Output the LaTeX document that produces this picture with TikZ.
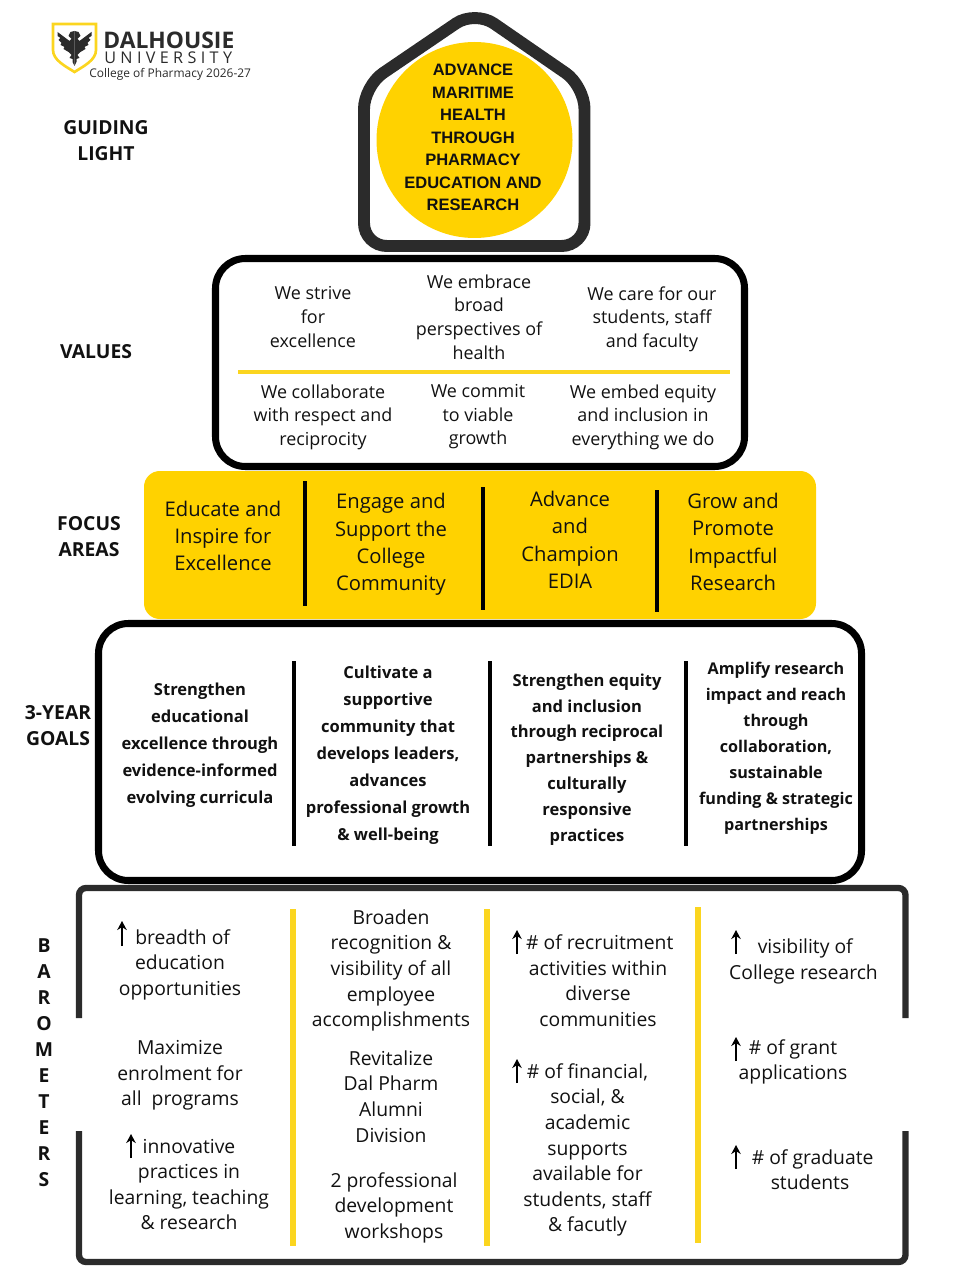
\documentclass[tikz,border=0pt]{standalone}
\usepackage{fontspec}
\setmainfont{Open Sans}
\newfontfamily\guidefont{Liberation Sans}
\newfontfamily\spacedfont[LetterSpace=27]{Open Sans}
\usepackage{tikz}
\usetikzlibrary{arrows.meta}
\definecolor{Ink}{HTML}{111111}
\definecolor{Frame}{HTML}{2B2B2B}
\definecolor{Gold}{HTML}{FFD200}
\definecolor{GoldBar}{HTML}{FBD51F}
\tikzset{
  sidelabel/.style={align=center,text=Ink,font=\fontsize{11}{14.8}\selectfont\bfseries},
  guidetext/.style={align=center,text=Ink,font=\fontsize{9.4}{12.8}\selectfont\guidefont\bfseries},
  valuetext/.style={align=center,text=Ink,font=\fontsize{10.2}{13.4}\selectfont},
  focustext/.style={align=center,text=Ink,font=\fontsize{11.5}{15.6}\selectfont},
  goaltext/.style={align=center,text=Ink,font=\fontsize{9.4}{15.4}\selectfont\bfseries},
  barotext/.style={align=center,text=Ink,font=\fontsize{11}{14.55}\selectfont},
  blackbox/.style={draw=black,line width=4pt,rounded corners=17pt},
  blackbar/.style={draw=black,line width=2.4pt},
  goldbar/.style={draw=GoldBar,line width=3.8pt},
  bracket/.style={draw=Frame,line width=3.6pt,rounded corners=4pt},
  upmark/.style={-{Stealth[length=1.8mm,width=1.9mm]},line width=1.1pt,draw=black}
}
\begin{document}
\begin{tikzpicture}[x=.02cm,y=-.02cm]
  \useasboundingbox (0,0) rectangle (960,1280);
  % crest and wordmark
  \draw[draw=GoldBar,line width=1.5pt,fill=white] (53,24) -- (96,24) -- (96,50) .. controls (96,60) and (84,66) .. (74.5,72) .. controls (65,66) and (53,60) .. (53,50) -- cycle;
  \foreach \side in {1,-1} {
    \fill[Frame,shift={(74.5,0)},xscale=\side] (0,31) -- (4,32) -- (6,36) -- (3,39) -- (5,41) -- (17,32) -- (17,36) -- (14,38) -- (16,40) -- (13,43) -- (14,45) -- (10,47) -- (11,49) -- (6,52) -- (3,55) -- (5,58) -- (2,59) -- (2,62) -- (0,66) -- cycle;
  }
  \node[anchor=west,inner sep=0pt,text=Frame,font=\fontsize{13}{15}\selectfont\bfseries] (wordDal) at (103,40) {DALHOUSIE};
  \node[anchor=west,inner sep=0pt,text=Frame,font=\fontsize{9.2}{11}\selectfont\spacedfont] (wordUni) at (104,57.5) {UNIVERSITY};
  \node[anchor=west,inner sep=0pt,text=Frame,font=\fontsize{6.8}{8}\selectfont] (wordCollege) at (89,74.5) {College of Pharmacy 2026-27};
  % row labels
  \node[sidelabel] (labelGuiding) at (106,141) {GUIDING\\LIGHT};
  \node[sidelabel] (labelValues) at (96,352) {VALUES};
  \node[sidelabel] (labelFocus) at (89,537) {FOCUS\\AREAS};
  \node[sidelabel] (labelGoals) at (58,726) {3-YEAR\\GOALS};
  \node[sidelabel] (labelBaro) at (44,1063) {B\\A\\R\\O\\M\\E\\T\\E\\R\\S};
  % guiding light
  \draw[draw=Frame,line width=6.8pt,rounded corners=13pt,fill=white] (364,86) -- (475,10.5) -- (584.5,86) -- (584.5,246) -- (364,246) -- cycle;
  \fill[Gold] (474.5,140) circle (98);
  \node[guidetext] (guideText) at (473,137.5) {ADVANCE\\MARITIME\\HEALTH\\THROUGH\\PHARMACY\\EDUCATION AND\\RESEARCH};
  % values
  \draw[blackbox] (215.5,258.5) rectangle (744.5,466.5);
  \draw[goldbar,line width=2.8pt] (238,372) -- (730,372);
  \node[valuetext] (valExcel) at (313,317) {We strive\\for\\excellence};
  \node[valuetext] (valBroad) at (479,317) {We embrace\\broad\\perspectives of\\health};
  \node[valuetext] (valCare) at (652,319) {We care for our\\students, staff\\and faculty};
  \node[valuetext] (valRespect) at (323,417) {We collaborate\\with respect and\\reciprocity};
  \node[valuetext] (valGrowth) at (478,417) {We commit\\to viable\\growth};
  \node[valuetext] (valEquity) at (643,417) {We embed equity\\and inclusion in\\everything we do};
  % focus areas
  \fill[Gold,rounded corners=9pt] (144,471) rectangle (816,619);
  \draw[blackbar] (305,481) -- (305,606);
  \draw[blackbar] (483,487) -- (483,610);
  \draw[blackbar] (657,490) -- (657,612);
  \node[focustext] (focusEducate) at (223,536) {Educate and\\Inspire for\\Excellence};
  \node[focustext] (focusEngage) at (391,544.5) {Engage and\\Support the\\College\\Community};
  \node[focustext] (focusEdia) at (570,540) {Advance\\and\\Champion\\EDIA};
  \node[focustext] (focusGrow) at (733,542) {Grow and\\Promote\\Impactful\\Research};
  % barometers frame first, the goals box sits on it
  \draw[bracket] (79,1018) -- (79,888) -- (905.5,888) -- (905.5,1018);
  \draw[bracket] (79,1131) -- (79,1262) -- (905.5,1262) -- (905.5,1131);
  % 3-year goals
  \draw[blackbox,fill=white] (98.5,623.5) rectangle (861.5,880.5);
  \draw[blackbar] (294,661) -- (294,846);
  \draw[blackbar] (490,661) -- (490,846);
  \draw[blackbar] (686,661) -- (686,846);
  \node[goaltext] (goalCurricula) at (200,745) {Strengthen\\educational\\excellence through\\evidence-informed\\evolving curricula};
  \node[goaltext] (goalCommunity) at (388,755.5) {Cultivate a\\supportive\\community that\\develops leaders,\\advances\\professional growth\\\& well-being};
  \node[goaltext,font=\fontsize{9.4}{14.7}\selectfont\bfseries] (goalEquity) at (587,759.5) {Strengthen equity\\and inclusion\\through reciprocal\\partnerships \&\\culturally\\responsive\\practices};
  \node[goaltext,font=\fontsize{9.2}{14.8}\selectfont\bfseries] (goalResearch) at (776,748.5) {Amplify research\\impact and reach\\through\\collaboration,\\sustainable\\funding \& strategic\\partnerships};
  % barometers
  \draw[goldbar] (293,909) -- (293,1246);
  \draw[goldbar] (487,909) -- (487,1246);
  \draw[goldbar] (698,907) -- (698,1243);
  \draw[upmark] (122,946) -- (122,921);
  \node[barotext] (baroBreadth) at (180,964.5) {\hspace*{3pt}breadth of\\education\\opportunities};
  \node[barotext] (baroEnrol) at (180,1075.5) {Maximize\\enrolment for\\all\ \ programs};
  \draw[upmark] (131,1158) -- (131,1134);
  \node[barotext] (baroPractice) at (189,1184.5) {innovative\\practices in\\learning, teaching\\\& research};
  \node[barotext] (baroRecog) at (391,970.5) {Broaden\\recognition \&\\visibility of all\\employee\\accomplishments};
  \node[barotext] (baroAlumni) at (391,1096.5) {Revitalize\\Dal Pharm\\Alumni\\Division};
  \node[barotext] (baroWork) at (394,1207.5) {2 professional\\development\\workshops};
  \draw[upmark] (517,954) -- (517,930);
  \node[barotext] (baroRecruit) at (598,980.5) {\hspace*{2pt}\# of recruitment\\activities within\\diverse\\communities};
  \draw[upmark] (517,1083) -- (517,1059);
  \node[barotext] (baroSupport) at (587.5,1150) {\# of financial,\\social, \&\\academic\\supports\\available for\\students, staff\\\& facutly};
  \draw[upmark] (736,954) -- (736,930);
  \node[barotext] (baroVisible) at (803.5,961.5) {\hspace*{2pt}visibility of\\College research};
  \draw[upmark] (736,1061) -- (736,1037);
  \node[barotext] (baroGrant) at (793,1062) {\# of grant\\applications};
  \draw[upmark] (736,1169) -- (736,1145);
  \node[barotext] (baroGrad) at (810,1169.5) {\hspace*{3pt}\# of graduate\\students};
\end{tikzpicture}
\end{document}
